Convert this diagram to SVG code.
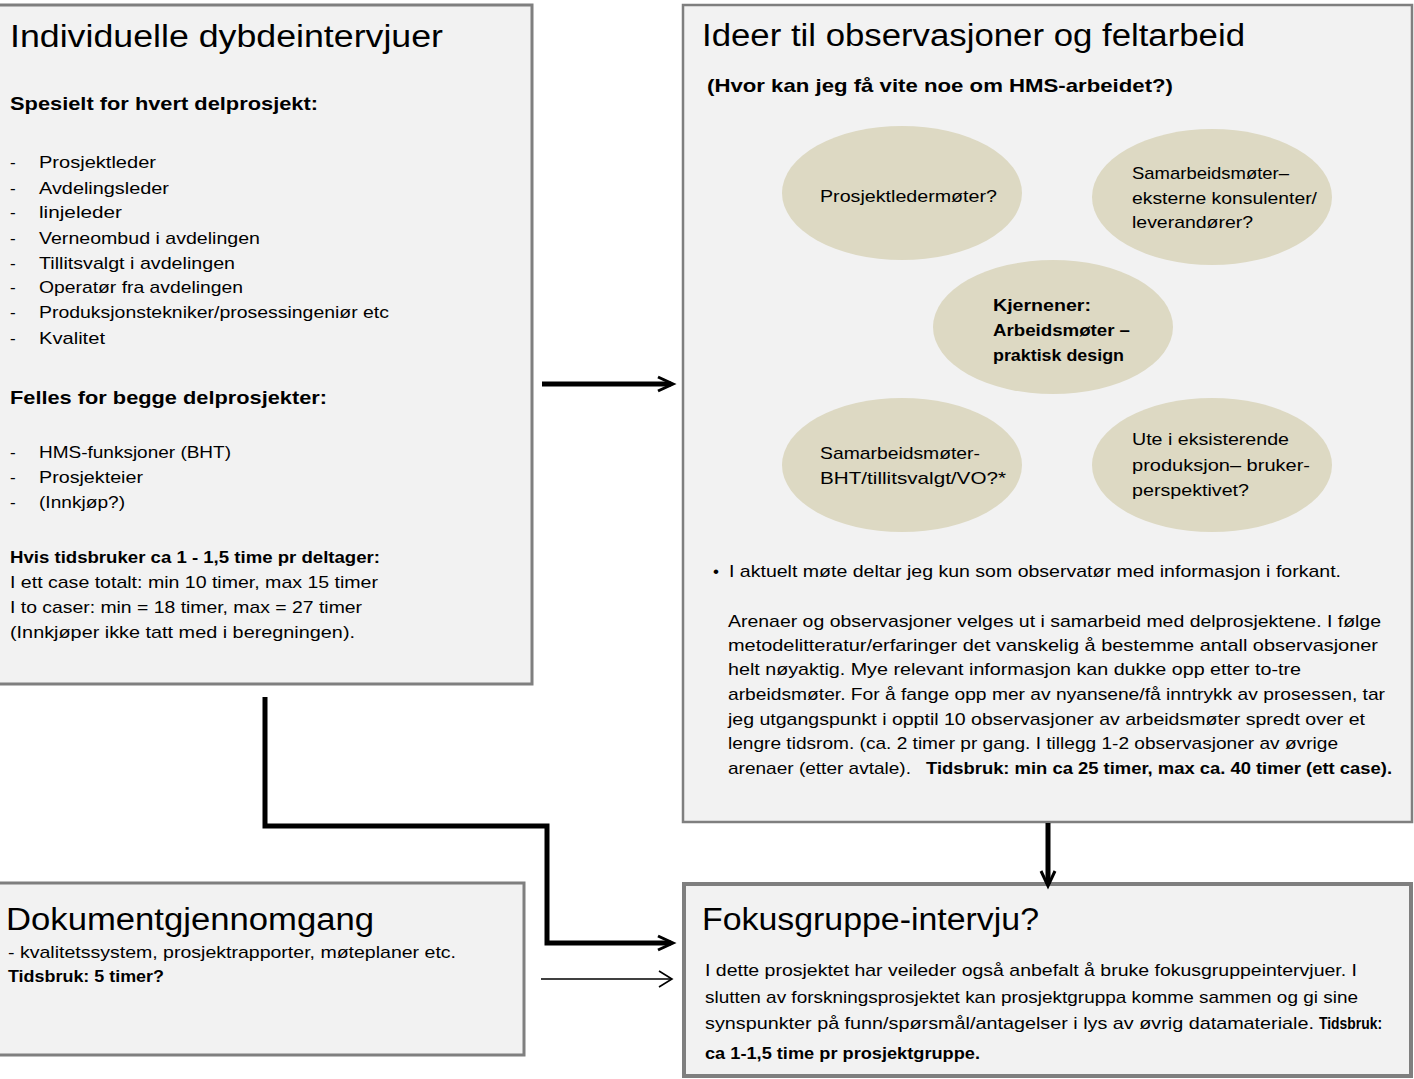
<svg xmlns="http://www.w3.org/2000/svg" width="1414" height="1079" viewBox="0 0 1414 1079">
<defs>
<style>
.box{fill:#F2F2F2;stroke:#7F7F7F;stroke-width:3}
.bub{fill:#DDD9C3}
text{font-family:"Liberation Sans",Arial,sans-serif;fill:#000}
.ttl{font-size:31px}
.h{font-size:19px;font-weight:bold}
.n{font-size:17px}
.nb{font-size:17px;font-weight:bold}
.con{fill:none;stroke:#000;stroke-width:5}
.thin{fill:none;stroke:#000;stroke-width:1.3}
</style>
<marker id="ah" markerWidth="18" markerHeight="20" refX="10" refY="9" orient="auto" markerUnits="userSpaceOnUse" overflow="visible">
<path d="M-3,2 L12,9 L-3,16" fill="none" stroke="#000" stroke-width="3"/>
</marker>
<marker id="ahThin" markerWidth="16" markerHeight="20" refX="12" refY="9" orient="auto" markerUnits="userSpaceOnUse" overflow="visible">
<path d="M0,1 L13,9 L0,17" fill="none" stroke="#000" stroke-width="1.6"/>
</marker>
</defs>
<rect width="1414" height="1079" fill="#FFFFFF"/>

<g id="node-individuelle">
<rect class="box" x="-10" y="5" width="542" height="679"/>
<text class="ttl" x="10" y="47" textLength="433" lengthAdjust="spacingAndGlyphs">Individuelle dybdeintervjuer</text>
<text class="h" x="10" y="110" textLength="308" lengthAdjust="spacingAndGlyphs">Spesielt for hvert delprosjekt:</text>
<text class="n" x="10" y="168">-</text><text class="n" x="39" y="168" textLength="117" lengthAdjust="spacingAndGlyphs">Prosjektleder</text>
<text class="n" x="10" y="194">-</text><text class="n" x="39" y="194" textLength="130" lengthAdjust="spacingAndGlyphs">Avdelingsleder</text>
<text class="n" x="10" y="218">-</text><text class="n" x="39" y="218" textLength="83" lengthAdjust="spacingAndGlyphs">linjeleder</text>
<text class="n" x="10" y="244">-</text><text class="n" x="39" y="244" textLength="221" lengthAdjust="spacingAndGlyphs">Verneombud i avdelingen</text>
<text class="n" x="10" y="269">-</text><text class="n" x="39" y="269" textLength="196" lengthAdjust="spacingAndGlyphs">Tillitsvalgt i avdelingen</text>
<text class="n" x="10" y="293">-</text><text class="n" x="39" y="293" textLength="204" lengthAdjust="spacingAndGlyphs">Operatør fra avdelingen</text>
<text class="n" x="10" y="318">-</text><text class="n" x="39" y="318" textLength="350" lengthAdjust="spacingAndGlyphs">Produksjonstekniker/prosessingeniør etc</text>
<text class="n" x="10" y="344">-</text><text class="n" x="39" y="344" textLength="66" lengthAdjust="spacingAndGlyphs">Kvalitet</text>
<text class="h" x="10" y="404" textLength="317" lengthAdjust="spacingAndGlyphs">Felles for begge delprosjekter:</text>
<text class="n" x="10" y="458">-</text><text class="n" x="39" y="458" textLength="192" lengthAdjust="spacingAndGlyphs">HMS-funksjoner (BHT)</text>
<text class="n" x="10" y="483">-</text><text class="n" x="39" y="483" textLength="104" lengthAdjust="spacingAndGlyphs">Prosjekteier</text>
<text class="n" x="10" y="508">-</text><text class="n" x="39" y="508" textLength="86" lengthAdjust="spacingAndGlyphs">(Innkjøp?)</text>
<text class="nb" x="10" y="563" textLength="370" lengthAdjust="spacingAndGlyphs">Hvis tidsbruker ca 1 - 1,5 time pr deltager:</text>
<text class="n" x="10" y="588" textLength="368" lengthAdjust="spacingAndGlyphs">I ett case totalt: min 10 timer, max 15 timer</text>
<text class="n" x="10" y="613" textLength="352" lengthAdjust="spacingAndGlyphs">I to caser: min = 18 timer, max = 27 timer</text>
<text class="n" x="10" y="638" textLength="345" lengthAdjust="spacingAndGlyphs">(Innkjøper ikke tatt med i beregningen).</text>
</g>

<g id="node-ideer">
<rect class="box" x="683" y="5" width="729" height="817" style="stroke-width:2.5"/>
<text class="ttl" x="702" y="46" textLength="543" lengthAdjust="spacingAndGlyphs">Ideer til observasjoner og feltarbeid</text>
<text class="h" x="707" y="92" textLength="466" lengthAdjust="spacingAndGlyphs">(Hvor kan jeg få vite noe om HMS-arbeidet?)</text>
<g id="bubble-prosjektledermoter">
<ellipse class="bub" cx="902" cy="193" rx="120" ry="67"/>
<text class="n" x="820" y="202" textLength="177" lengthAdjust="spacingAndGlyphs">Prosjektledermøter?</text>
</g>
<g id="bubble-samarbeid-eksterne">
<ellipse class="bub" cx="1212" cy="197" rx="120" ry="68"/>
<text class="n" x="1132" y="179" textLength="157" lengthAdjust="spacingAndGlyphs">Samarbeidsmøter–</text>
<text class="n" x="1132" y="204" textLength="185" lengthAdjust="spacingAndGlyphs">eksterne konsulenter/</text>
<text class="n" x="1132" y="228" textLength="121" lengthAdjust="spacingAndGlyphs">leverandører?</text>
</g>
<g id="bubble-kjerne">
<ellipse class="bub" cx="1053" cy="327" rx="120" ry="67"/>
<text class="nb" x="993" y="311" textLength="98" lengthAdjust="spacingAndGlyphs">Kjernener:</text>
<text class="nb" x="993" y="336" textLength="137" lengthAdjust="spacingAndGlyphs">Arbeidsmøter –</text>
<text class="nb" x="993" y="361" textLength="131" lengthAdjust="spacingAndGlyphs">praktisk design</text>
</g>
<g id="bubble-samarbeid-bht">
<ellipse class="bub" cx="902" cy="465" rx="120" ry="67"/>
<text class="n" x="820" y="459" textLength="160" lengthAdjust="spacingAndGlyphs">Samarbeidsmøter-</text>
<text class="n" x="820" y="484" textLength="186" lengthAdjust="spacingAndGlyphs">BHT/tillitsvalgt/VO?*</text>
</g>
<g id="bubble-ute">
<ellipse class="bub" cx="1212" cy="465" rx="120" ry="67"/>
<text class="n" x="1132" y="445" textLength="157" lengthAdjust="spacingAndGlyphs">Ute i eksisterende</text>
<text class="n" x="1132" y="471" textLength="178" lengthAdjust="spacingAndGlyphs">produksjon– bruker-</text>
<text class="n" x="1132" y="496" textLength="117" lengthAdjust="spacingAndGlyphs">perspektivet?</text>
</g>
<text class="n" x="713" y="577">•</text>
<text class="n" x="729" y="577" textLength="612" lengthAdjust="spacingAndGlyphs">I aktuelt møte deltar jeg kun som observatør med informasjon i forkant.</text>
<text class="n" x="728" y="627" textLength="653" lengthAdjust="spacingAndGlyphs">Arenaer og observasjoner velges ut i samarbeid med delprosjektene. I følge</text>
<text class="n" x="728" y="651" textLength="650" lengthAdjust="spacingAndGlyphs">metodelitteratur/erfaringer det vanskelig å bestemme antall observasjoner</text>
<text class="n" x="728" y="675" textLength="573" lengthAdjust="spacingAndGlyphs">helt nøyaktig. Mye relevant informasjon kan dukke opp etter to-tre</text>
<text class="n" x="728" y="700" textLength="657" lengthAdjust="spacingAndGlyphs">arbeidsmøter. For å fange opp mer av nyansene/få inntrykk av prosessen, tar</text>
<text class="n" x="728" y="725" textLength="637" lengthAdjust="spacingAndGlyphs">jeg utgangspunkt i opptil 10 observasjoner av arbeidsmøter spredt over et</text>
<text class="n" x="728" y="749" textLength="610" lengthAdjust="spacingAndGlyphs">lengre tidsrom. (ca. 2 timer pr gang. I tillegg 1-2 observasjoner av øvrige</text>
<text class="n" x="728" y="774" textLength="183" lengthAdjust="spacingAndGlyphs">arenaer (etter avtale).</text>
<text class="nb" x="926" y="774" textLength="466" lengthAdjust="spacingAndGlyphs">Tidsbruk: min ca 25 timer, max ca. 40 timer (ett case).</text>
</g>

<g id="node-dokument">
<rect class="box" x="-10" y="883" width="534" height="172"/>
<text class="ttl" x="6" y="930" textLength="368" lengthAdjust="spacingAndGlyphs">Dokumentgjennomgang</text>
<text class="n" x="8" y="958" textLength="448" lengthAdjust="spacingAndGlyphs">- kvalitetssystem, prosjektrapporter, møteplaner etc.</text>
<text class="nb" x="8" y="982" textLength="156" lengthAdjust="spacingAndGlyphs">Tidsbruk: 5 timer?</text>
</g>

<g id="node-fokus">
<rect class="box" x="684" y="884" width="727" height="192" style="stroke-width:4"/>
<text class="ttl" x="702" y="930" textLength="337" lengthAdjust="spacingAndGlyphs">Fokusgruppe-intervju?</text>
<text class="n" x="705" y="976" textLength="652" lengthAdjust="spacingAndGlyphs">I dette prosjektet har veileder også anbefalt å bruke fokusgruppeintervjuer. I</text>
<text class="n" x="705" y="1003" textLength="653" lengthAdjust="spacingAndGlyphs">slutten av forskningsprosjektet kan prosjektgruppa komme sammen og gi sine</text>
<text class="n" x="705" y="1029" textLength="609" lengthAdjust="spacingAndGlyphs">synspunkter på funn/spørsmål/antagelser i lys av øvrig datamateriale.</text>
<text class="nb" x="1319" y="1029" textLength="63" lengthAdjust="spacingAndGlyphs">Tidsbruk:</text>
<text class="nb" x="705" y="1059" textLength="275" lengthAdjust="spacingAndGlyphs">ca 1-1,5 time pr prosjektgruppe.</text>
</g>

<g id="connectors">
<path class="con" d="M542,384 H671" marker-end="url(#ah)"/>
<path class="con" d="M265,697 V826 H547 V943 H671" marker-end="url(#ah)"/>
<path class="thin" d="M541,979 H671" marker-end="url(#ahThin)"/>
<path class="con" d="M1048,823 V884" marker-end="url(#ah)"/>
</g>
</svg>
